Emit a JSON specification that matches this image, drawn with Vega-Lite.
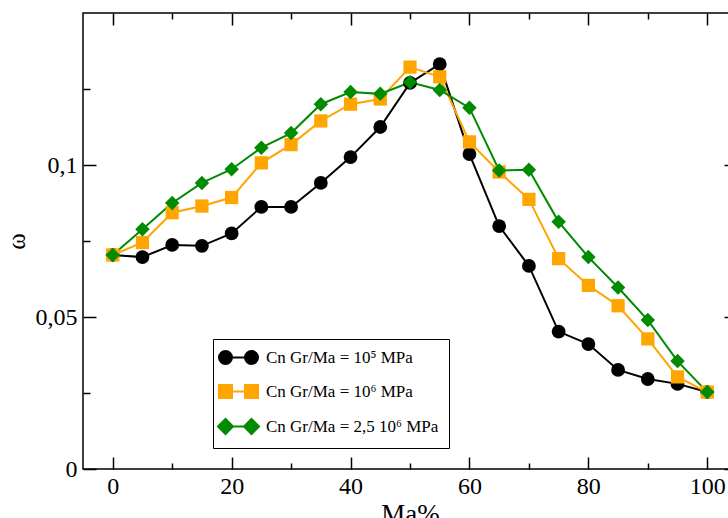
{
  "$schema": "https://vega.github.io/schema/vega-lite/v6.json",
  "width": 654,
  "height": 456,
  "autosize": "none",
  "padding": {"left": 83, "top": 13, "right": -9, "bottom": 49},
  "background": "white",
  "config": {
    "font": "Liberation Serif",
    "view": {"stroke": "black", "strokeWidth": 1.5}
  },
  "datasets": {
    "pts": [
      {"s": "Cn Gr/Ma = 10⁵ MPa", "x": 0, "y": 0.0704},
      {"s": "Cn Gr/Ma = 10⁵ MPa", "x": 5, "y": 0.0697},
      {"s": "Cn Gr/Ma = 10⁵ MPa", "x": 10, "y": 0.0737},
      {"s": "Cn Gr/Ma = 10⁵ MPa", "x": 15, "y": 0.0734},
      {"s": "Cn Gr/Ma = 10⁵ MPa", "x": 20, "y": 0.0775},
      {"s": "Cn Gr/Ma = 10⁵ MPa", "x": 25, "y": 0.0862},
      {"s": "Cn Gr/Ma = 10⁵ MPa", "x": 30, "y": 0.0862},
      {"s": "Cn Gr/Ma = 10⁵ MPa", "x": 35, "y": 0.0941},
      {"s": "Cn Gr/Ma = 10⁵ MPa", "x": 40, "y": 0.1026},
      {"s": "Cn Gr/Ma = 10⁵ MPa", "x": 45, "y": 0.1125},
      {"s": "Cn Gr/Ma = 10⁵ MPa", "x": 50, "y": 0.127},
      {"s": "Cn Gr/Ma = 10⁵ MPa", "x": 55, "y": 0.1332},
      {"s": "Cn Gr/Ma = 10⁵ MPa", "x": 60, "y": 0.1036},
      {"s": "Cn Gr/Ma = 10⁵ MPa", "x": 65, "y": 0.0799},
      {"s": "Cn Gr/Ma = 10⁵ MPa", "x": 70, "y": 0.0668},
      {"s": "Cn Gr/Ma = 10⁵ MPa", "x": 75, "y": 0.0452},
      {"s": "Cn Gr/Ma = 10⁵ MPa", "x": 80, "y": 0.0411},
      {"s": "Cn Gr/Ma = 10⁵ MPa", "x": 85, "y": 0.0326},
      {"s": "Cn Gr/Ma = 10⁵ MPa", "x": 90, "y": 0.0296},
      {"s": "Cn Gr/Ma = 10⁵ MPa", "x": 95, "y": 0.028},
      {"s": "Cn Gr/Ma = 10⁵ MPa", "x": 100, "y": 0.0253},
      {"s": "Cn Gr/Ma = 10⁶ MPa", "x": 0, "y": 0.0704},
      {"s": "Cn Gr/Ma = 10⁶ MPa", "x": 5, "y": 0.0745},
      {"s": "Cn Gr/Ma = 10⁶ MPa", "x": 10, "y": 0.0843},
      {"s": "Cn Gr/Ma = 10⁶ MPa", "x": 15, "y": 0.0865},
      {"s": "Cn Gr/Ma = 10⁶ MPa", "x": 20, "y": 0.0893},
      {"s": "Cn Gr/Ma = 10⁶ MPa", "x": 25, "y": 0.1007},
      {"s": "Cn Gr/Ma = 10⁶ MPa", "x": 30, "y": 0.1067},
      {"s": "Cn Gr/Ma = 10⁶ MPa", "x": 35, "y": 0.1145},
      {"s": "Cn Gr/Ma = 10⁶ MPa", "x": 40, "y": 0.12},
      {"s": "Cn Gr/Ma = 10⁶ MPa", "x": 45, "y": 0.1217},
      {"s": "Cn Gr/Ma = 10⁶ MPa", "x": 50, "y": 0.1322},
      {"s": "Cn Gr/Ma = 10⁶ MPa", "x": 55, "y": 0.129},
      {"s": "Cn Gr/Ma = 10⁶ MPa", "x": 60, "y": 0.1076},
      {"s": "Cn Gr/Ma = 10⁶ MPa", "x": 65, "y": 0.0977},
      {"s": "Cn Gr/Ma = 10⁶ MPa", "x": 70, "y": 0.0887},
      {"s": "Cn Gr/Ma = 10⁶ MPa", "x": 75, "y": 0.0692},
      {"s": "Cn Gr/Ma = 10⁶ MPa", "x": 80, "y": 0.0604},
      {"s": "Cn Gr/Ma = 10⁶ MPa", "x": 85, "y": 0.0537},
      {"s": "Cn Gr/Ma = 10⁶ MPa", "x": 90, "y": 0.0428},
      {"s": "Cn Gr/Ma = 10⁶ MPa", "x": 95, "y": 0.0303},
      {"s": "Cn Gr/Ma = 10⁶ MPa", "x": 100, "y": 0.0253},
      {"s": "Cn Gr/Ma = 2,5 10⁶ MPa", "x": 0, "y": 0.0704},
      {"s": "Cn Gr/Ma = 2,5 10⁶ MPa", "x": 5, "y": 0.0789},
      {"s": "Cn Gr/Ma = 2,5 10⁶ MPa", "x": 10, "y": 0.0875},
      {"s": "Cn Gr/Ma = 2,5 10⁶ MPa", "x": 15, "y": 0.0941},
      {"s": "Cn Gr/Ma = 2,5 10⁶ MPa", "x": 20, "y": 0.0986},
      {"s": "Cn Gr/Ma = 2,5 10⁶ MPa", "x": 25, "y": 0.1057},
      {"s": "Cn Gr/Ma = 2,5 10⁶ MPa", "x": 30, "y": 0.1105},
      {"s": "Cn Gr/Ma = 2,5 10⁶ MPa", "x": 35, "y": 0.12},
      {"s": "Cn Gr/Ma = 2,5 10⁶ MPa", "x": 40, "y": 0.124},
      {"s": "Cn Gr/Ma = 2,5 10⁶ MPa", "x": 45, "y": 0.1234},
      {"s": "Cn Gr/Ma = 2,5 10⁶ MPa", "x": 50, "y": 0.1272},
      {"s": "Cn Gr/Ma = 2,5 10⁶ MPa", "x": 55, "y": 0.1247},
      {"s": "Cn Gr/Ma = 2,5 10⁶ MPa", "x": 60, "y": 0.1188},
      {"s": "Cn Gr/Ma = 2,5 10⁶ MPa", "x": 65, "y": 0.0982},
      {"s": "Cn Gr/Ma = 2,5 10⁶ MPa", "x": 70, "y": 0.0984},
      {"s": "Cn Gr/Ma = 2,5 10⁶ MPa", "x": 75, "y": 0.0813},
      {"s": "Cn Gr/Ma = 2,5 10⁶ MPa", "x": 80, "y": 0.0697},
      {"s": "Cn Gr/Ma = 2,5 10⁶ MPa", "x": 85, "y": 0.0597},
      {"s": "Cn Gr/Ma = 2,5 10⁶ MPa", "x": 90, "y": 0.049},
      {"s": "Cn Gr/Ma = 2,5 10⁶ MPa", "x": 95, "y": 0.0355},
      {"s": "Cn Gr/Ma = 2,5 10⁶ MPa", "x": 100, "y": 0.0253}
    ]
  },
  "data": {"name": "pts"},
  "layer": [
    {
      "mark": {"type": "line", "strokeWidth": 2},
      "encoding": {
        "x": {
          "field": "x", "type": "quantitative",
          "scale": {"domain": [-5, 105], "nice": false, "zero": false},
          "axis": {
            "orient": "bottom",
            "values": [0, 10, 20, 30, 40, 50, 60, 70, 80, 90, 100],
            "domain": false, "grid": false,
            "tickColor": "black", "tickWidth": 1.5,
            "tickSize": {"condition": {"test": "datum.value % 20 === 0", "value": -12}, "value": -6},
            "labelExpr": "datum.value % 20 === 0 ? format(datum.value, 'd') : ''",
            "labelFont": "Liberation Serif", "labelFontSize": 24, "labelColor": "black",
            "labelPadding": 17, "labelFlush": false, "labelOverlap": false,
            "title": "Ma%", "titleFont": "Liberation Serif", "titleFontSize": 27,
            "titleFontWeight": "normal", "titleColor": "black", "titlePadding": -3
          }
        },
        "y": {
          "field": "y", "type": "quantitative",
          "scale": {"domain": [0, 0.15], "nice": false},
          "axis": {
            "orient": "left",
            "values": [0, 0.025, 0.05, 0.075, 0.1, 0.125],
            "domain": false, "grid": false,
            "tickColor": "black", "tickWidth": 1.5,
            "tickSize": {"condition": {"test": "round(datum.value * 40) % 2 === 0", "value": -13}, "value": -7},
            "labelExpr": "round(datum.value * 40) % 2 === 0 ? replace(format(datum.value, '~g'), '.', ',') : ''",
            "labelFont": "Liberation Serif", "labelFontSize": 24, "labelColor": "black",
            "labelPadding": 19, "labelFlush": false, "labelOverlap": false,
            "title": "ω", "titleFont": "Liberation Serif", "titleFontSize": 25,
            "titleFontWeight": "normal", "titleColor": "black", "titlePadding": 6
          }
        },
        "color": {
          "field": "s", "type": "nominal",
          "scale": {
            "domain": ["Cn Gr/Ma = 10⁵ MPa", "Cn Gr/Ma = 10⁶ MPa", "Cn Gr/Ma = 2,5 10⁶ MPa"],
            "range": ["#000000", "#FFA500", "#008B00"]
          },
          "legend": {
            "orient": "none", "legendX": 130, "legendY": 326,
            "title": null,
            "strokeColor": "black", "fillColor": "white",
            "padding": 10, "rowPadding": 13,
            "symbolSize": 100, "symbolOffset": 7, "labelOffset": 19,
            "symbolStrokeWidth": 2, "symbolOpacity": 1,
            "symbolType": {"expr": "indexof(datum.value, '2,5') >= 0 ? 'M-4.1,0L-2.6,-1.5L-1.1,0L-2.6,1.5ZM-2.6,0L2.6,0M1.1,0L2.6,-1.5L4.1,0L2.6,1.5Z' : indexof(datum.value, '10⁶') >= 0 ? 'M-3.9,-1.3H-1.3V1.3H-3.9ZM-2.6,0L2.6,0M1.3,-1.3H3.9V1.3H1.3Z' : 'M-3.9,0A1.3,1.3,0,1,1,-1.3,0A1.3,1.3,0,1,1,-3.9,0ZM-2.6,0L2.6,0M1.3,0A1.3,1.3,0,1,1,3.9,0A1.3,1.3,0,1,1,1.3,0Z'"},
            "labelFont": "Liberation Serif", "labelFontSize": 17, "labelColor": "black",
            "labelBaseline": "middle", "labelLimit": 400
          }
        }
      }
    },
    {
      "transform": [{"filter": "datum.s === 'Cn Gr/Ma = 10⁵ MPa'"}],
      "mark": {"type": "point", "filled": true, "opacity": 1, "strokeWidth": 0, "shape": "circle", "size": 190},
      "encoding": {
        "x": {
          "field": "x", "type": "quantitative",
          "scale": {"domain": [-5, 105], "nice": false, "zero": false},
          "axis": {
            "orient": "top",
            "values": [0, 10, 20, 30, 40, 50, 60, 70, 80, 90, 100],
            "domain": false, "grid": false, "labels": false, "title": null,
            "tickColor": "black", "tickWidth": 1.5,
            "tickSize": {"condition": {"test": "datum.value % 20 === 0", "value": -12}, "value": -6}
          }
        },
        "y": {
          "field": "y", "type": "quantitative",
          "scale": {"domain": [0, 0.15], "nice": false},
          "axis": {
            "orient": "right",
            "values": [0, 0.025, 0.05, 0.075, 0.1, 0.125],
            "domain": false, "grid": false, "labels": false, "title": null,
            "tickColor": "black", "tickWidth": 1.5,
            "tickSize": {"condition": {"test": "round(datum.value * 40) % 2 === 0", "value": -13}, "value": -7}
          }
        },
        "color": {"field": "s", "type": "nominal"}
      }
    },
    {
      "transform": [{"filter": "datum.s === 'Cn Gr/Ma = 10⁶ MPa'"}],
      "mark": {"type": "point", "filled": true, "opacity": 1, "strokeWidth": 0, "shape": "square", "size": 175},
      "encoding": {
        "x": {"field": "x", "type": "quantitative", "axis": null},
        "y": {"field": "y", "type": "quantitative", "axis": null},
        "color": {"field": "s", "type": "nominal"}
      }
    },
    {
      "transform": [{"filter": "datum.s === 'Cn Gr/Ma = 2,5 10⁶ MPa'"}],
      "mark": {"type": "point", "filled": true, "opacity": 1, "strokeWidth": 0, "shape": "diamond", "size": 210},
      "encoding": {
        "x": {"field": "x", "type": "quantitative", "axis": null},
        "y": {"field": "y", "type": "quantitative", "axis": null},
        "color": {"field": "s", "type": "nominal"}
      }
    }
  ],
  "resolve": {"axis": {"x": "independent", "y": "independent"}}
}
